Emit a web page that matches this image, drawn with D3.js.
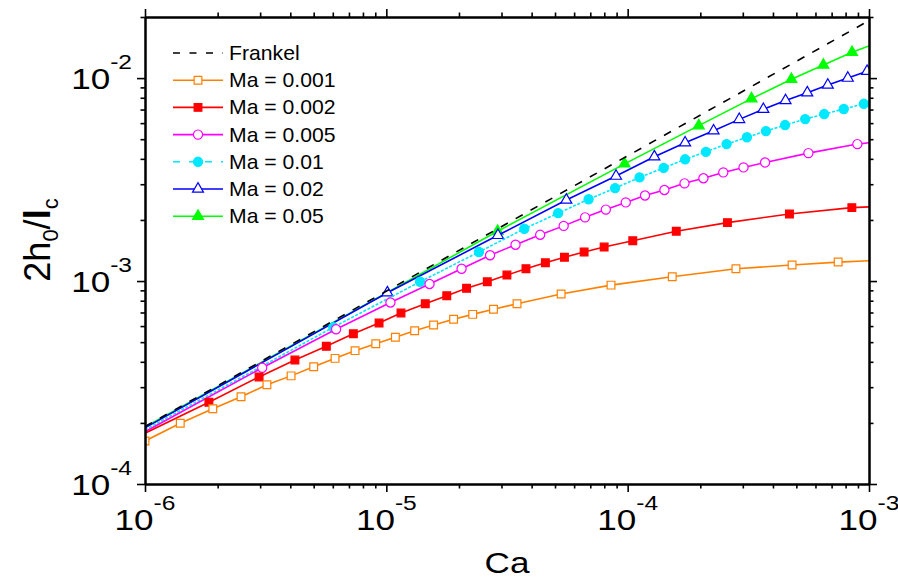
<!DOCTYPE html>
<html><head><meta charset="utf-8">
<script src="https://cdn.jsdelivr.net/npm/d3@7"></script>
<style>
body{margin:0;background:#fff}
svg{display:block}
text{font-family:"Liberation Sans",Arial,Helvetica,sans-serif;fill:#000}
</style>
</head><body>
<svg id="chart" width="898" height="581"></svg>
<script>
// ---------------- data ----------------
const seriesNames = ["Ma = 0.001", "Ma = 0.002", "Ma = 0.005", "Ma = 0.01", "Ma = 0.02", "Ma = 0.05"];
const frankelName = "Frankel";

const caMa001 = [1.0e-6,1.4e-6,1.91e-6,2.5e-6,3.2e-6,4.03e-6,5.0e-6,6.13e-6,7.42e-6,9.04e-6,1.09e-5,1.31e-5,1.57e-5,1.90e-5,2.28e-5,2.78e-5,3.48e-5,5.3e-5,8.53e-5,1.53e-4,2.81e-4,4.8e-4,7.45e-4];
const vMa001  = [1.63e-4,1.99e-4,2.35e-4,2.69e-4,3.08e-4,3.41e-4,3.78e-4,4.16e-4,4.54e-4,4.91e-4,5.28e-4,5.69e-4,6.07e-4,6.48e-4,6.85e-4,7.26e-4,7.73e-4,8.63e-4,9.55e-4,1.05e-3,1.15e-3,1.20e-3,1.24e-3];

const caMa002 = [1.84e-6,2.97e-6,4.18e-6,5.64e-6,7.30e-6,9.33e-6,1.15e-5,1.45e-5,1.78e-5,2.15e-5,2.62e-5,3.16e-5,3.79e-5,4.56e-5,5.47e-5,6.60e-5,7.99e-5,1.05e-4,1.59e-4,2.59e-4,4.68e-4,8.49e-4];
const vMa002  = [2.53e-4,3.37e-4,4.08e-4,4.77e-4,5.50e-4,6.21e-4,6.96e-4,7.73e-4,8.47e-4,9.21e-4,9.92e-4,1.07e-3,1.15e-3,1.23e-3,1.31e-3,1.39e-3,1.47e-3,1.58e-3,1.76e-3,1.94e-3,2.14e-3,2.30e-3];

const caMa005 = [3.06e-6,6.19e-6,1.04e-5,1.51e-5,2.05e-5,2.69e-5,3.43e-5,4.34e-5,5.43e-5,6.66e-5,8.12e-5,9.82e-5,1.18e-4,1.42e-4,1.72e-4,2.06e-4,2.49e-4,3.02e-4,3.71e-4,5.61e-4,8.95e-4];
const vMa005  = [3.74e-4,5.79e-4,7.84e-4,9.67e-4,1.15e-3,1.34e-3,1.51e-3,1.69e-3,1.87e-3,2.06e-3,2.25e-3,2.44e-3,2.64e-3,2.81e-3,3.03e-3,3.21e-3,3.43e-3,3.63e-3,3.84e-3,4.27e-3,4.73e-3];

const caMa01 = [6.03e-6,1.38e-5,2.42e-5,3.73e-5,5.15e-5,6.89e-5,8.87e-5,1.12e-4,1.41e-4,1.73e-4,2.11e-4,2.57e-4,3.12e-4,3.74e-4,4.49e-4,5.44e-4,6.52e-4,7.86e-4,9.52e-4];
const vMa01  = [5.92e-4,9.92e-4,1.39e-3,1.81e-3,2.16e-3,2.53e-3,2.87e-3,3.24e-3,3.61e-3,3.98e-3,4.33e-3,4.73e-3,5.11e-3,5.48e-3,5.87e-3,6.28e-3,6.65e-3,7.04e-3,7.47e-3];

const caMa02 = [1.01e-5,2.90e-5,5.57e-5,8.95e-5,1.29e-4,1.73e-4,2.27e-4,2.90e-4,3.65e-4,4.51e-4,5.55e-4,6.75e-4,8.17e-4,9.82e-4];
const vMa02  = [8.76e-4,1.68e-3,2.51e-3,3.29e-3,4.10e-3,4.80e-3,5.50e-3,6.26e-3,7.02e-3,7.75e-3,8.47e-3,9.24e-3,1.00e-2,1.08e-2];

const caMa05 = [2.89e-5,9.71e-5,1.97e-4,3.26e-4,4.77e-4,6.47e-4,8.51e-4];
const vMa05  = [1.76e-3,3.78e-3,5.83e-3,7.92e-3,9.86e-3,1.16e-2,1.34e-2];

// line values at Ca = 1e-6 (start) and Ca = 1e-3 (end), where no symbol is drawn
const startV = [null, 1.78e-4, 1.81e-4, 1.85e-4, 1.89e-4, 1.91e-4];
const endV   = [1.26e-3, 2.32e-3, 4.80e-3, 7.59e-3, 1.09e-2, 1.44e-2];

const frankelCa = [1e-6, 1e-4, 1e-3];
const frankelV  = [1.92e-4, 4.14e-3, 1.92e-2];

const xTickExps = ["-6", "-5", "-4", "-3"];
const yTickExps = ["-4", "-3", "-2"];

// ---------------- style ----------------
const colors  = ["#ff8000", "#ff0000", "#ff00ff", "#00e8ff", "#0000ff", "#00ff00"];
const symbols = ["square", "square", "circle", "circle", "triangle", "triangle"];
const filled  = [false, true, false, true, false, true];
const dashes  = [null, null, null, "3,1.6", null, null];
const caArr = [caMa001, caMa002, caMa005, caMa01, caMa02, caMa05];
const vArr  = [vMa001, vMa002, vMa005, vMa01, vMa02, vMa05];

const L = 145, R = 869, T = 17, B = 484;
const SX = 1.17;

const svg = d3.select("#chart");
const x = d3.scaleLog().domain([1e-6, 1e-3]).range([L, R]);
const y = d3.scaleLog().domain([1e-4, 2e-2]).range([B, T]);

svg.append("defs").append("clipPath").attr("id", "clip")
  .append("rect").attr("x", L).attr("y", T).attr("width", R - L).attr("height", B - T);

function symPath(kind) {
  if (kind === "square") return d3.symbol(d3.symbolSquare, 60)();
  if (kind === "circle") return d3.symbol(d3.symbolCircle, 66)();
  return d3.symbol(d3.symbolTriangle, 52)();
}

const line = d3.line().x(d => x(d[0])).y(d => y(d[1]));
const plot = svg.append("g").attr("clip-path", "url(#clip)");

// draw series in reverse so lower-Ma curves sit on top
for (let i = seriesNames.length - 1; i >= 0; i--) {
  const pts = caArr[i].map((c, k) => [c, vArr[i][k]]);
  const linePts = (startV[i] !== null ? [[1e-6, startV[i]]] : []).concat(pts, [[1e-3, endV[i]]]);
  plot.append("path").datum(linePts).attr("d", line)
    .attr("fill", "none").attr("stroke", colors[i]).attr("stroke-width", 1.6)
    .attr("stroke-dasharray", dashes[i]);
  plot.selectAll(null).data(pts).enter().append("path")
    .attr("d", symPath(symbols[i]))
    .attr("transform", d => `translate(${x(d[0])},${y(d[1])})`)
    .attr("fill", filled[i] ? colors[i] : "#fff")
    .attr("stroke", colors[i]).attr("stroke-width", 1.2);
}
// Frankel dashed line
plot.append("path").datum(frankelCa.map((c, k) => [c, frankelV[k]])).attr("d", line)
  .attr("fill", "none").attr("stroke", "#000").attr("stroke-width", 1.6)
  .attr("stroke-dasharray", "8,9");

// ---------------- axes ----------------
const majX = [1e-6, 1e-5, 1e-4, 1e-3];
const minX = [];
[1e-6, 1e-5, 1e-4].forEach(d => { for (let m = 2; m <= 9; m++) minX.push(d * m); });
const majY = [1e-4, 1e-3, 1e-2];
const minY = [];
[1e-4, 1e-3].forEach(d => { for (let m = 2; m <= 9; m++) minY.push(d * m); });
minY.push(2e-2);

function drawAxis(axisFn, scale, pos, transform) {
  const gMin = svg.append("g").attr("transform", transform)
    .call(axisFn(scale).tickValues(pos === "x" ? minX : minY).tickSize(4.5).tickSizeOuter(0).tickFormat(""));
  const gMaj = svg.append("g").attr("transform", transform)
    .call(axisFn(scale).tickValues(pos === "x" ? majX : majY).tickSize(8).tickSizeOuter(0).tickFormat(""));
  [gMin, gMaj].forEach(g => {
    g.select(".domain").attr("stroke", "#000").attr("stroke-width", 2);
    g.selectAll(".tick line").attr("stroke", "#000").attr("stroke-width", 1.6);
  });
}
drawAxis(d3.axisBottom, x, "x", `translate(0,${B})`);
drawAxis(d3.axisTop, x, "x", `translate(0,${T})`);
drawAxis(d3.axisLeft, y, "y", `translate(${L},0)`);
drawAxis(d3.axisRight, y, "y", `translate(${R},0)`);

function powLabel(px, py, exp, anchor) {
  const t = svg.append("text")
    .attr("transform", `translate(${px},${py}) scale(${SX},1)`)
    .attr("text-anchor", anchor).style("font-size", "30px");
  t.append("tspan").text("10");
  t.append("tspan").attr("dy", -20).style("font-size", "21px").text(exp);
}
majX.forEach((v, i) => powLabel(x(v), 530, xTickExps[i], "middle"));
majY.forEach((v, i) => powLabel(132, y(v) + 11, yTickExps[i], "end"));

// axis titles
svg.append("text").attr("transform", `translate(507,573) scale(${SX},1)`)
  .attr("text-anchor", "middle").style("font-size", "30px").text("Ca");

const yt = svg.append("text").attr("transform", "translate(50,240) rotate(-90)")
  .attr("text-anchor", "middle").style("font-size", "36px");
yt.append("tspan").text("2h");
yt.append("tspan").attr("dy", 8).style("font-size", "22px").text("0");
yt.append("tspan").attr("dy", -8).text("/");
yt.append("tspan").style("font-weight", "bold").text("l");
yt.append("tspan").attr("dy", 8).style("font-size", "22px").text("c");

// ---------------- legend ----------------
const legY0 = 53, legDy = 27.2, legX0 = 173, legX1 = 223, legXm = 198, legTx = 229;
const lg = svg.append("g");
function legText(yy, txt) {
  lg.append("text").attr("transform", `translate(${legTx},${yy + 7}) scale(1.06,1)`)
    .style("font-size", "20px").text(txt);
}
lg.append("line").attr("x1", legX0).attr("x2", legX1).attr("y1", legY0).attr("y2", legY0)
  .attr("stroke", "#000").attr("stroke-width", 1.6).attr("stroke-dasharray", "7,9.5");
legText(legY0, frankelName);
seriesNames.forEach((name, i) => {
  const yy = legY0 + legDy * (i + 1);
  lg.append("line").attr("x1", legX0).attr("x2", legX1).attr("y1", yy).attr("y2", yy)
    .attr("stroke", colors[i]).attr("stroke-width", 1.6)
    .attr("stroke-dasharray", dashes[i] ? "7,9" : null);
  lg.append("path").attr("d", symPath(symbols[i]))
    .attr("transform", `translate(${legXm},${yy})`)
    .attr("fill", filled[i] ? colors[i] : "#fff")
    .attr("stroke", colors[i]).attr("stroke-width", 1.2);
  legText(yy, name);
});
</script>
</body></html>
